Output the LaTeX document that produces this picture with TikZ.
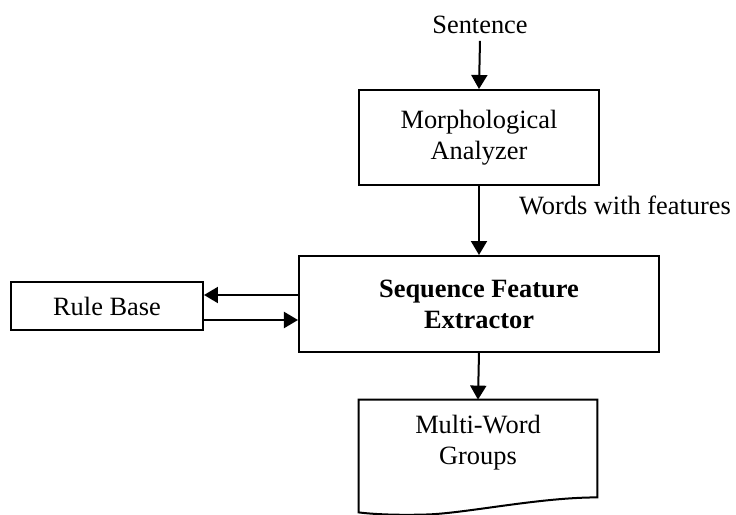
\documentclass[tikz,border=0pt]{standalone}
\usepackage{fontspec}
\setmainfont{Liberation Serif}
\usetikzlibrary{arrows.meta,calc}

\newcommand\diagramFont{\fontsize{13.2}{15.5}\selectfont}

\tikzset{
    block/.style={draw, line width=1pt, align=center, inner sep=2pt},
    flow/.style={line width=1pt, -{Triangle[length=7pt,width=8pt]}},
}

\begin{document}
\begin{tikzpicture}[x=0.5pt, y=-0.5pt, font=\diagramFont]
    \useasboundingbox (0,0) rectangle (736,515);
    % Draw the processing blocks
    \node (sentence) at (480,25) {Sentence};
    \node [block, minimum width=120pt, minimum height=47.5pt] (morph) at (479,137.5) {Morphological\\Analyzer};
    \node [block, minimum width=180pt, minimum height=48pt, font=\diagramFont\bfseries] (extractor) at (479,304) {Sequence Feature\\Extractor};
    \node [block, minimum width=96pt, minimum height=24pt] (rulebase) at (107,306) {Rule Base};
    \node [align=center, minimum width=119pt, minimum height=42.5pt, inner sep=0pt] (groups) at (478,442.5) {Multi-Word\\Groups};
    % Draw the document outline with wavy bottom
    \draw [line width=1pt] (groups.north west) -- (groups.north east) -- ($(groups.south east)+(0,12)$)
        .. controls ($(groups.south east)+(-57,12)$) and ($(groups.south east)+(-127,27)$) .. ($(groups.south west)+(71,29)$)
        .. controls ($(groups.south west)+(41,30)$) and ($(groups.south west)+(16,29)$) .. ($(groups.south west)+(0,27)$) -- cycle;
    % Draw the connectors
    \draw [flow] (sentence.south) -- (morph.north);
    \draw [flow] (morph.south) -- (extractor.north);
    \node (wordslabel) at (625,205) {Words with features};
    \draw [flow] ([yshift=4.5pt]extractor.west) -- ([yshift=5.5pt]rulebase.east);
    \draw [flow] ([yshift=-7pt]rulebase.east) -- ([yshift=-8pt]extractor.west);
    \draw [flow] (extractor.south) -- (groups.north);
\end{tikzpicture}
\end{document}
